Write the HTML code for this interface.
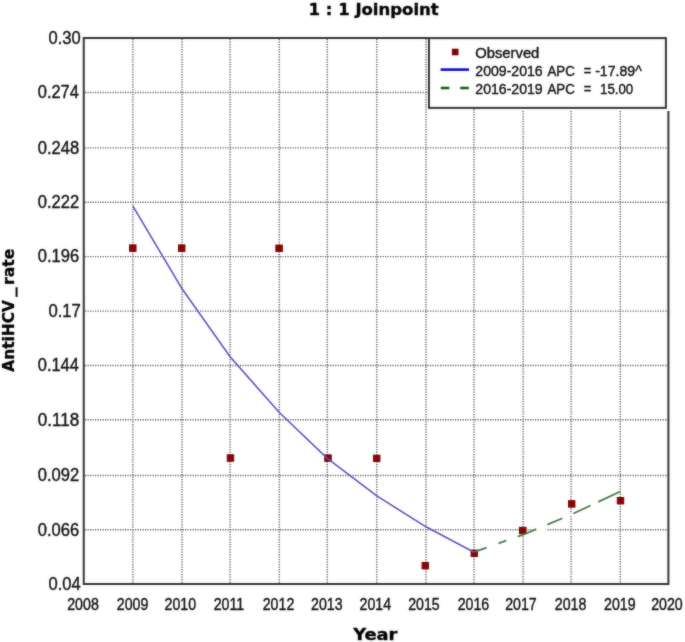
<!DOCTYPE html>
<html><head><meta charset="utf-8"><title>1 : 1 Joinpoint</title>
<style>html,body{margin:0;padding:0;background:#fff;}svg{display:block;}</style>
</head><body>
<svg width="685" height="642" viewBox="0 0 685 642">
<defs><filter id="soft" x="0" y="0" width="685" height="642" filterUnits="userSpaceOnUse" color-interpolation-filters="sRGB"><feGaussianBlur in="SourceGraphic" stdDeviation="0.9" result="b"/><feComposite in="SourceGraphic" in2="b" operator="arithmetic" k1="0" k2="0.6" k3="0.4" k4="0"/></filter></defs>
<g filter="url(#soft)">
<rect width="685" height="642" fill="#fff"/>
<path d="M132.90 39V583 M182.05 39V583 M230.10 39V583 M279.35 39V583 M327.30 39V583 M376.80 39V583 M426.00 39V583 M474.00 39V583 M523.10 111V583 M571.10 111V583 M620.30 111V583 M85 92.50H428 M85 147.90H668 M85 202.30H668 M85 256.65H668 M85 311.15H668 M85 365.50H668 M85 419.80H668 M85 475.50H668 M85 529.80H668" stroke="#666" stroke-width="1.4" stroke-dasharray="1.25 1.25" fill="none"/>
<polyline points="474.00,552.17 523.10,534.72 571.10,514.64 620.30,491.56" fill="none" stroke="#fff" stroke-width="2.2"/>
<path d="M536.8 529.8H546.6" stroke="#fff" stroke-width="3"/>
<rect x="129.55" y="244.85" width="6.5" height="6.5" fill="#8e0002" stroke="#680000" stroke-width="0.9"/>
<rect x="178.45" y="244.90" width="6.5" height="6.5" fill="#8e0002" stroke="#680000" stroke-width="0.9"/>
<rect x="227.20" y="454.75" width="6.5" height="6.5" fill="#8e0002" stroke="#680000" stroke-width="0.9"/>
<rect x="275.85" y="245.05" width="6.5" height="6.5" fill="#8e0002" stroke="#680000" stroke-width="0.9"/>
<rect x="324.75" y="454.85" width="6.5" height="6.5" fill="#8e0002" stroke="#680000" stroke-width="0.9"/>
<rect x="373.45" y="455.15" width="6.5" height="6.5" fill="#8e0002" stroke="#680000" stroke-width="0.9"/>
<rect x="422.05" y="562.40" width="6.5" height="6.5" fill="#8e0002" stroke="#680000" stroke-width="0.9"/>
<rect x="471.05" y="550.05" width="6.5" height="6.5" fill="#8e0002" stroke="#680000" stroke-width="0.9"/>
<rect x="519.55" y="527.25" width="6.5" height="6.5" fill="#8e0002" stroke="#680000" stroke-width="0.9"/>
<rect x="568.45" y="500.65" width="6.5" height="6.5" fill="#8e0002" stroke="#680000" stroke-width="0.9"/>
<rect x="617.25" y="497.45" width="6.5" height="6.5" fill="#8e0002" stroke="#680000" stroke-width="0.9"/>
<polyline points="132.90,206.11 182.05,288.83 230.10,356.76 279.35,412.54 327.30,458.34 376.80,495.94 426.00,526.82 474.00,552.17" fill="none" stroke="#5c54c4" stroke-width="1.6" stroke-linejoin="round"/>
<path d="M474.60 551.96 L486.60 547.69 M498.50 543.46 L506.30 540.69 M517.80 536.60 L523.10 534.72 L536.30 529.20 M547.30 524.60 L562.40 518.28 M573.40 513.56 L590.60 505.49 M598.20 501.93 L620.30 491.56" fill="none" stroke="#447a4a" stroke-width="1.8"/>
<path d="M429 38.1H83.75V584H668.4V111" fill="none" stroke="#333" stroke-width="2.0"/>
<rect x="428.95" y="38.1" width="236.95" height="69.8" fill="#fff" stroke="#333" stroke-width="2.0"/>
<rect x="451.9" y="48.7" width="6.6" height="6.6" fill="#800000"/>
<path d="M440.6 69.6H469" stroke="#0000dc" stroke-width="2.5"/>
<path d="M440.8 88H449.3M460.2 88H468.8" stroke="#006000" stroke-width="2.5"/>
<g fill="#111" stroke="#111" stroke-width="0.4">
<text x="308.59" y="14.60" font-family="'DejaVu Sans', sans-serif" font-weight="bold" font-size="15.0" textLength="130.16" lengthAdjust="spacingAndGlyphs" fill="#000">1 : 1 Joinpoint</text>
<text x="353.18" y="640.40" font-family="'DejaVu Sans', sans-serif" font-weight="bold" font-size="15.9" textLength="44.20" lengthAdjust="spacingAndGlyphs" fill="#000">Year</text>
<text x="475.31" y="57.60" font-family="'Liberation Sans', sans-serif" font-size="14.6" textLength="64.02" lengthAdjust="spacingAndGlyphs">Observed</text>
<text x="475.34" y="75.70" font-family="'Liberation Sans', sans-serif" font-size="14.6" textLength="67.33" lengthAdjust="spacingAndGlyphs">2009-2016</text>
<text x="547.40" y="75.70" font-family="'Liberation Sans', sans-serif" font-size="14.6" textLength="27.36" lengthAdjust="spacingAndGlyphs">APC</text>
<text x="583.79" y="75.70" font-family="'Liberation Sans', sans-serif" font-size="14.6" textLength="7.59" lengthAdjust="spacingAndGlyphs">=</text>
<text x="595.16" y="75.70" font-family="'Liberation Sans', sans-serif" font-size="14.6" textLength="46.65" lengthAdjust="spacingAndGlyphs">-17.89^</text>
<text x="475.34" y="93.70" font-family="'Liberation Sans', sans-serif" font-size="14.6" textLength="67.33" lengthAdjust="spacingAndGlyphs">2016-2019</text>
<text x="547.40" y="93.70" font-family="'Liberation Sans', sans-serif" font-size="14.6" textLength="27.36" lengthAdjust="spacingAndGlyphs">APC</text>
<text x="583.79" y="93.70" font-family="'Liberation Sans', sans-serif" font-size="14.6" textLength="7.59" lengthAdjust="spacingAndGlyphs">=</text>
<text x="600.07" y="93.70" font-family="'Liberation Sans', sans-serif" font-size="14.6" textLength="33.16" lengthAdjust="spacingAndGlyphs">15.00</text>
<text x="48.48" y="43.90" font-family="'Liberation Sans', sans-serif" font-size="17.6" textLength="32.13" lengthAdjust="spacingAndGlyphs">0.30</text>
<text x="37.79" y="98.30" font-family="'Liberation Sans', sans-serif" font-size="17.6" textLength="41.12" lengthAdjust="spacingAndGlyphs">0.274</text>
<text x="37.78" y="153.70" font-family="'Liberation Sans', sans-serif" font-size="17.6" textLength="41.39" lengthAdjust="spacingAndGlyphs">0.248</text>
<text x="37.78" y="208.10" font-family="'Liberation Sans', sans-serif" font-size="17.6" textLength="41.39" lengthAdjust="spacingAndGlyphs">0.222</text>
<text x="37.78" y="262.45" font-family="'Liberation Sans', sans-serif" font-size="17.6" textLength="41.39" lengthAdjust="spacingAndGlyphs">0.196</text>
<text x="48.48" y="316.95" font-family="'Liberation Sans', sans-serif" font-size="17.6" textLength="32.39" lengthAdjust="spacingAndGlyphs">0.17</text>
<text x="37.79" y="371.30" font-family="'Liberation Sans', sans-serif" font-size="17.6" textLength="41.12" lengthAdjust="spacingAndGlyphs">0.144</text>
<text x="37.77" y="425.60" font-family="'Liberation Sans', sans-serif" font-size="17.6" textLength="41.42" lengthAdjust="spacingAndGlyphs">0.118</text>
<text x="37.78" y="481.30" font-family="'Liberation Sans', sans-serif" font-size="17.6" textLength="41.39" lengthAdjust="spacingAndGlyphs">0.092</text>
<text x="37.78" y="535.60" font-family="'Liberation Sans', sans-serif" font-size="17.6" textLength="41.39" lengthAdjust="spacingAndGlyphs">0.066</text>
<text x="48.48" y="589.80" font-family="'Liberation Sans', sans-serif" font-size="17.6" textLength="32.13" lengthAdjust="spacingAndGlyphs">0.04</text>
<text x="67.24" y="609.80" font-family="'Liberation Sans', sans-serif" font-size="15.6" textLength="31.54" lengthAdjust="spacingAndGlyphs">2008</text>
<text x="116.84" y="609.80" font-family="'Liberation Sans', sans-serif" font-size="15.6" textLength="31.54" lengthAdjust="spacingAndGlyphs">2009</text>
<text x="164.52" y="609.80" font-family="'Liberation Sans', sans-serif" font-size="15.6" textLength="31.54" lengthAdjust="spacingAndGlyphs">2010</text>
<text x="213.71" y="609.80" font-family="'Liberation Sans', sans-serif" font-size="15.6" textLength="30.49" lengthAdjust="spacingAndGlyphs">2011</text>
<text x="262.74" y="609.80" font-family="'Liberation Sans', sans-serif" font-size="15.6" textLength="31.54" lengthAdjust="spacingAndGlyphs">2012</text>
<text x="311.09" y="609.80" font-family="'Liberation Sans', sans-serif" font-size="15.6" textLength="31.54" lengthAdjust="spacingAndGlyphs">2013</text>
<text x="359.57" y="609.80" font-family="'Liberation Sans', sans-serif" font-size="15.6" textLength="31.54" lengthAdjust="spacingAndGlyphs">2014</text>
<text x="408.19" y="609.80" font-family="'Liberation Sans', sans-serif" font-size="15.6" textLength="31.54" lengthAdjust="spacingAndGlyphs">2015</text>
<text x="457.69" y="609.80" font-family="'Liberation Sans', sans-serif" font-size="15.6" textLength="31.54" lengthAdjust="spacingAndGlyphs">2016</text>
<text x="505.19" y="609.80" font-family="'Liberation Sans', sans-serif" font-size="15.6" textLength="31.54" lengthAdjust="spacingAndGlyphs">2017</text>
<text x="554.79" y="609.80" font-family="'Liberation Sans', sans-serif" font-size="15.6" textLength="31.54" lengthAdjust="spacingAndGlyphs">2018</text>
<text x="604.09" y="609.80" font-family="'Liberation Sans', sans-serif" font-size="15.6" textLength="31.54" lengthAdjust="spacingAndGlyphs">2019</text>
<text x="651.17" y="609.80" font-family="'Liberation Sans', sans-serif" font-size="15.6" textLength="31.54" lengthAdjust="spacingAndGlyphs">2020</text>
</g>
<text transform="translate(13.7 0) rotate(-90)" x="-371.70" y="0" font-family="'DejaVu Sans', sans-serif" font-weight="bold" font-size="15.5" stroke="#000" stroke-width="0.3" textLength="71.59" lengthAdjust="spacingAndGlyphs" fill="#000">AntiHCV</text>
<text transform="translate(13.7 0) rotate(-90)" x="-296.80" y="0" font-family="'DejaVu Sans', sans-serif" font-weight="bold" font-size="15.5" stroke="#000" stroke-width="0.3" textLength="9.40" lengthAdjust="spacingAndGlyphs" fill="#000">_</text>
<text transform="translate(13.7 0) rotate(-90)" x="-284.92" y="0" font-family="'DejaVu Sans', sans-serif" font-weight="bold" font-size="15.5" stroke="#000" stroke-width="0.3" textLength="36.31" lengthAdjust="spacingAndGlyphs" fill="#000">rate</text>
</g>
</svg>
</body></html>
